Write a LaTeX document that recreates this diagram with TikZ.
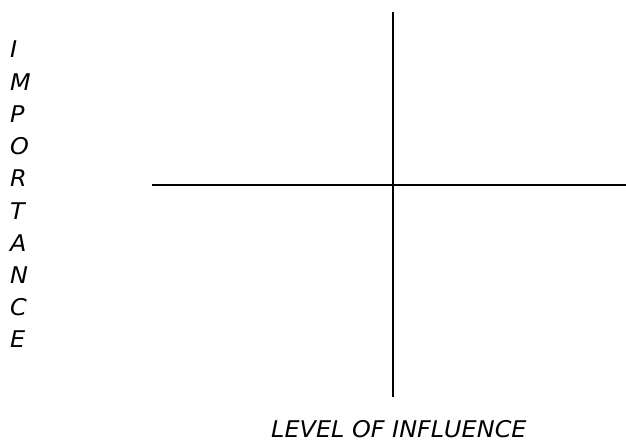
\documentclass[tikz,border=0pt]{standalone}
\usepackage{fontspec}
\newfontfamily\axisfont[FakeStretch=1.04]{DejaVu Sans}
\usepackage{tikz}
\usetikzlibrary{positioning}

\begin{document}
\begin{tikzpicture}[
  x=1pt, y=-1pt,
  font=\axisfont\itshape\fontsize{23}{27}\selectfont,
  letter/.style={anchor=base west, inner sep=0pt},
  axis/.style={line width=2pt}
]
\useasboundingbox (0,0) rectangle (626,444);

% quadrant axes
\coordinate (top)    at (393,12);
\coordinate (bottom) at (393,397);
\coordinate (left)   at (152,184.5);
\coordinate (right)  at (626,184.5);
\draw[axis] (top) -- (bottom);
\draw[axis] (left) -- (right);

% vertical label
\foreach \l [count=\i] in {I,M,P,O,R,T,A,N,C,E}
  \node[letter] (imp\i) at (10,{58+(\i-1)*32.2}) {\l};

% horizontal label
\node[letter] (level) at (271,437) {LEVEL OF INFLUENCE};
\end{tikzpicture}
\end{document}
